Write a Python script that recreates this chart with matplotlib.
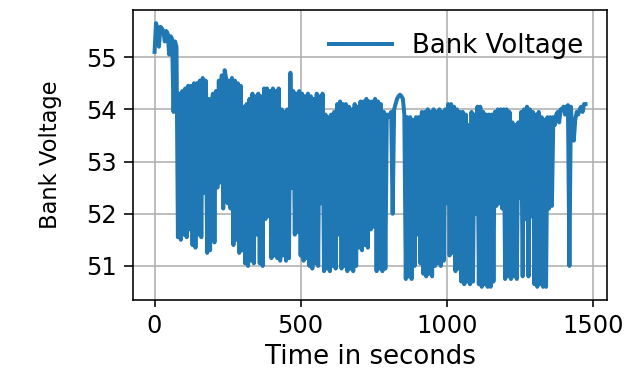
import numpy as np
import matplotlib
matplotlib.use("Agg")
import matplotlib.pyplot as plt

sample_step = 5
bank_voltage = [
    55.10, 55.65, 55.55, 55.20, 55.58, 55.55, 55.50, 55.30, 55.50, 55.45,
    55.05, 55.40, 55.35, 53.95, 55.30, 55.20, 51.55, 54.30, 51.50, 54.35,
    51.60, 54.40, 51.55, 54.45, 51.70, 54.45, 51.40, 54.50, 51.35, 54.50,
    51.60, 54.55, 51.55, 54.60, 52.40, 54.55, 51.25, 54.20, 51.30, 54.15,
    54.30, 51.45, 54.35, 52.50, 54.55, 52.60, 54.65, 52.10, 54.75, 54.60,
    52.20, 54.55, 52.10, 54.60, 51.40, 54.55, 51.50, 54.50, 51.25, 54.45,
    51.30, 54.05, 51.05, 54.10, 51.00, 54.20, 51.10, 54.30, 51.05, 54.25,
    51.60, 54.30, 51.05, 54.25, 51.00, 54.40, 51.90, 54.40, 51.95, 54.35,
    51.15, 54.40, 51.20, 54.35, 51.15, 54.40, 51.10, 54.00, 51.20, 53.95,
    51.10, 54.00, 51.15, 54.70, 52.50, 54.35, 51.60, 54.30, 51.65, 54.35,
    51.20, 54.30, 51.10, 54.25, 51.15, 54.30, 51.00, 54.25, 50.95, 54.20,
    51.05, 54.30, 51.00, 54.25, 52.20, 54.30, 50.90, 53.90, 50.95, 53.85,
    50.90, 53.90, 51.00, 53.95, 50.95, 54.10, 51.60, 54.15, 50.95, 54.10,
    51.00, 54.10, 50.90, 54.05, 50.95, 54.00, 50.90, 54.10, 51.00, 54.05,
    51.35, 54.15, 51.30, 54.15, 51.40, 54.20, 51.35, 54.15, 51.70, 54.15,
    51.75, 54.20, 50.90, 54.15, 50.95, 54.10, 50.90, 53.95, 50.95, 53.90,
    53.85, 53.90, 53.95, 52.00, 54.00, 54.10, 54.20, 54.25, 54.28, 54.25,
    54.20, 53.90, 50.75, 53.85, 50.80, 53.85, 50.75, 53.80, 51.00, 53.85,
    51.60, 53.85, 51.05, 53.95, 50.85, 53.95, 50.80, 54.00, 50.85, 53.95,
    50.80, 54.00, 51.00, 53.95, 51.05, 54.00, 51.00, 53.95, 51.10, 54.00,
    52.20, 54.10, 51.20, 54.10, 51.25, 54.05, 50.90, 54.00, 50.95, 53.95,
    50.70, 53.95, 50.65, 53.90, 50.70, 53.70, 50.65, 53.95, 50.70, 53.90,
    52.00, 54.05, 50.65, 54.05, 50.60, 53.95, 50.65, 53.90, 50.60, 53.90,
    50.60, 53.90, 50.70, 53.95, 52.15, 54.00, 52.20, 54.00, 52.10, 54.00,
    50.75, 54.00, 50.80, 53.95, 50.75, 53.75, 50.80, 53.70, 50.75, 53.75,
    52.30, 53.95, 50.80, 54.00, 51.90, 54.05, 50.80, 54.00, 51.95, 53.95,
    50.65, 53.90, 50.60, 53.95, 50.65, 53.85, 50.60, 53.80, 50.60, 53.85,
    52.10, 53.85, 52.15, 53.85, 53.70, 53.90, 53.95, 53.75, 54.00, 54.00,
    54.05, 53.90, 54.05, 54.08, 51.00, 54.05, 53.60, 53.40, 53.80, 53.95,
    53.90, 54.00, 54.05, 53.95, 54.10, 54.10,
]
time_s = np.arange(len(bank_voltage)) * sample_step

fig = plt.figure(figsize=(631 / 144, 376 / 144), dpi=144)
ax = fig.add_axes([0.2108, 0.2021, 0.7512, 0.7713])

ax.plot(time_s, bank_voltage, lw=2, label="Bank Voltage")

ax.set_xlabel("Time in seconds", fontsize=13, labelpad=3)
ax.set_ylabel("Bank Voltage", fontsize=11.3, labelpad=12)
ax.set_xticks([0, 500, 1000, 1500])
ax.set_yticks([51, 52, 53, 54, 55])
ax.tick_params(labelsize=12)
ax.tick_params(axis="y", length=4.5)
ax.legend(loc="upper right", frameon=False, fontsize=13, handlelength=2.4)
ax.grid(True)

fig.savefig("out.png", dpi=144)
